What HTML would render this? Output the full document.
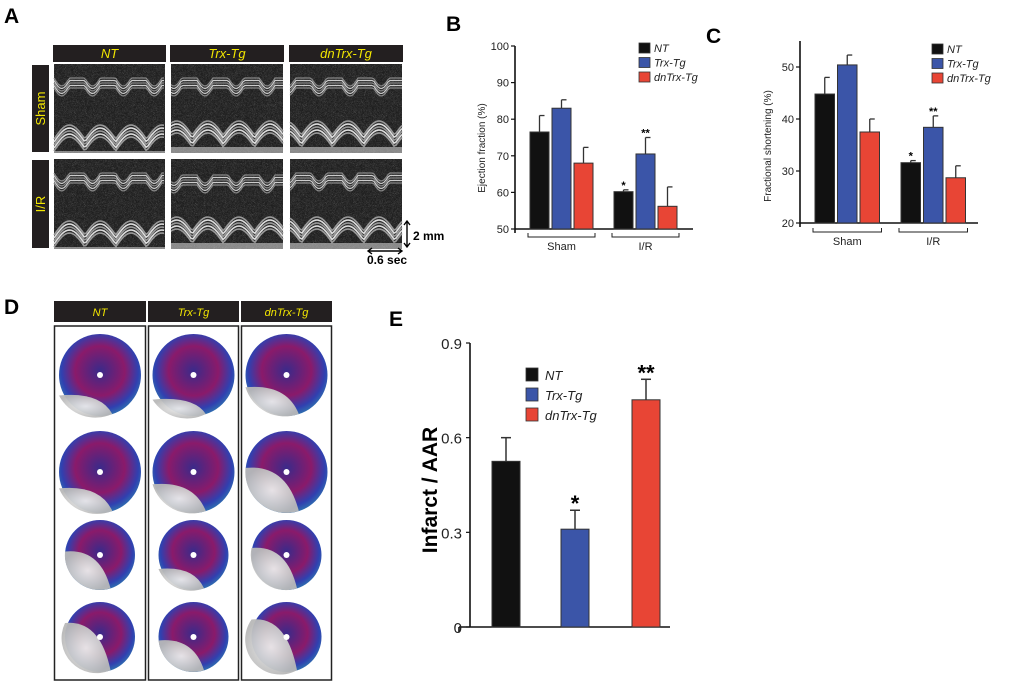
<!DOCTYPE html>
<html><head><meta charset="utf-8"><style>
body{margin:0;background:#fff;width:1020px;height:685px;overflow:hidden;font-family:"Liberation Sans",sans-serif}
svg{display:block}
</style></head><body>
<svg id="fig" width="1020" height="685" xmlns="http://www.w3.org/2000/svg">
<defs>
<radialGradient id="hp" cx="50%" cy="45%" r="55%"><stop offset="0" stop-color="#3a2a8a"/><stop offset="0.55" stop-color="#8a1a6a"/><stop offset="0.85" stop-color="#3040b0"/><stop offset="1" stop-color="#2f6fb0"/></radialGradient>
<radialGradient id="hg" cx="50%" cy="50%" r="55%"><stop offset="0" stop-color="#ececec"/><stop offset="1" stop-color="#b8b8b8"/></radialGradient>
<filter id="nz"><feTurbulence baseFrequency="0.9" numOctaves="1" seed="3"/><feColorMatrix values="0 0 0 0 1 0 0 0 0 1 0 0 0 0 1 0 0 0 0.35 0"/><feComposite in2="SourceGraphic" operator="in"/></filter>
</defs>
<g font-weight="bold" font-size="21" fill="#000">
<text x="4" y="23">A</text>
<text x="446" y="31">B</text>
<text x="706" y="43">C</text>
<text x="4" y="314">D</text>
<text x="389" y="326">E</text>
</g>
<g id="pa"></g>
<g id="pd"></g>
<g id="pb"></g>
<g id="pc"></g>
<g id="pe"></g>
</svg>
<script>
const NS='http://www.w3.org/2000/svg';
function mk(p,t,a,txt){const e=document.createElementNS(NS,t);for(const k in a)e.setAttribute(k,a[k]);if(txt!==undefined)e.textContent=txt;p.appendChild(e);return e;}
const COL=['#111111','#3b55a8','#e84535'];
const groupsLegend=['NT','Trx-Tg','dnTrx-Tg'];

// Panel B data
const bCats=['Sham','I/R'];
const bVals=[[76.5,83,68],[60.2,70.5,56.2]];
const bErr=[[4.5,2.3,4.3],[0.5,4.5,5.3]];
const bTicks=[50,60,70,80,90,100];
const bStars=[['','',''],['*','**','']];
// Panel C data
const cCats=['Sham','I/R'];
const cVals=[[44.8,50.4,37.5],[31.6,38.4,28.7]];
const cErr=[[3.2,1.9,2.5],[0.4,2.2,2.3]];
const cTicks=[20,30,40,50];
const cStars=[['','',''],['*','**','']];
// Panel E data
const eVals=[0.525,0.31,0.72];
const eErr=[0.075,0.06,0.065];
const eTicks=['0','0.3','0.6','0.9'];
const eStars=['','*','**'];

// ---- Panel A
const pa=document.getElementById('pa');
const colsA=[[53,113],[170,114],[289,114]];
groupsLegend.forEach((g,i)=>{
  const r=mk(pa,'rect',{x:colsA[i][0],y:45,width:colsA[i][1],height:17,fill:'#231f20'});
  
  mk(pa,'text',{x:colsA[i][0]+colsA[i][1]/2,y:58,'text-anchor':'middle','font-size':13,'font-style':'italic',fill:'#f2e600'},g);
});
[['Sham',65,152],['I/R',160,248]].forEach((r,j)=>{
  const rr=mk(pa,'rect',{x:32,y:r[1],width:17,height:r[2]-r[1],fill:'#231f20'});
  
  const cy=(r[1]+r[2])/2;
  mk(pa,'text',{x:45,y:cy,'text-anchor':'middle','font-size':13,fill:'#f2e600',transform:`rotate(-90 45 ${cy})`},r[0]);
  colsA.forEach((c,i)=>{
    const g=mk(pa,'g',{});
    
    const x0=c[0]+1,w=c[1]-2,y0=r[1]-1,h=r[2]-r[1]+2;
    mk(g,'rect',{x:x0,y:y0,width:w,height:h,fill:'#1c1c1c'});
    mk(g,'rect',{x:x0,y:y0,width:w,height:h,fill:'#1c1c1c',filter:'url(#nz)'});
    const top=y0+(i===1&&j===1?16:14), bot=y0+h-(i===0?22:26);
    for(let k=0;k<5;k++){
      let d='',d2='';
      for(let x=0;x<=w;x+=2){
        const ph=Math.sin(x/w*Math.PI*2*3.6+i);
        d+=(x?'L':'M')+(x0+x)+' '+(top+k*2.5+Math.max(0,ph)*8);
        d2+=(x?'L':'M')+(x0+x)+' '+(bot+k*3-Math.abs(Math.sin(x/w*Math.PI*3.6+i))*14+8);
      }
      mk(g,'path',{d:d,stroke:k%2?'#ccc':'#888',fill:'none','stroke-width':1.2});
      mk(g,'path',{d:d2,stroke:k%2?'#ddd':'#999',fill:'none','stroke-width':1.6});
    }
    mk(g,'rect',{x:x0,y:bot+20,width:w,height:y0+h-bot-20,fill:'#cfcfcf',opacity:0.6});
  });
});
mk(pa,'path',{d:'M407 222V246M404 225L407 221L410 225M404 243L407 247L410 243M369 251H401M372 248L368 251L372 254M398 248L402 251L398 254',stroke:'#000',fill:'none','stroke-width':1.4});
mk(pa,'text',{x:413,y:240,'font-size':12,'font-weight':'bold'},'2 mm');
mk(pa,'text',{x:367,y:264,'font-size':12,'font-weight':'bold'},'0.6 sec');

// ---- Panel D
const pd=document.getElementById('pd');
const colsD=[[54,92],[148,91],[241,91]];
const heartMix=[[0.25,0.2,0.35],[0.3,0.35,0.55],[0.55,0.3,0.6],[0.7,0.45,0.75]];
groupsLegend.forEach((g,i)=>{
  const r=mk(pd,'rect',{x:colsD[i][0],y:301,width:colsD[i][1],height:21,fill:'#231f20'});
  
  mk(pd,'text',{x:colsD[i][0]+colsD[i][1]/2,y:316,'text-anchor':'middle','font-size':11,'font-style':'italic',fill:'#f2e600'},g);
  const f=mk(pd,'rect',{x:colsD[i][0]+0.5,y:326,width:colsD[i][1]-1,height:354,fill:'#fff',stroke:'#222','stroke-width':1.5});
  
  [375,472,555,637].forEach((cy,k)=>{
    const cx=colsD[i][0]+colsD[i][1]/2, rad=k<2?41:35;
    const h=mk(pd,'circle',{cx:cx,cy:cy,r:rad,fill:'url(#hp)'});
    
    const m=heartMix[k][i];
    mk(pd,'path',{d:`M${cx-rad} ${cy+rad*(1-2*m)} A${rad} ${rad} 0 0 0 ${cx+rad*0.3} ${cy+rad*0.95} Q${cx} ${cy+rad*(0.9-2*m)} ${cx-rad} ${cy+rad*(1-2*m)}Z`,fill:'url(#hg)',opacity:0.95});
    mk(pd,'circle',{cx:cx,cy:cy,r:3,fill:'#fff'});
  });
});

// ---- bar chart helper for B and C
function barChart(id,cats,vals,errs,ticks,stars,opt){
  const p=document.getElementById(id);
  const y=v=>opt.y0-(v-opt.vmin)*opt.k;
  mk(p,'line',{x1:opt.ax,y1:y(ticks[ticks.length-1])-opt.ext,x2:opt.ax,y2:y(opt.vmin)+4,stroke:'#111','stroke-width':1.6});
  mk(p,'line',{x1:opt.ax,y1:y(opt.vmin),x2:opt.xend,y2:y(opt.vmin),stroke:'#111','stroke-width':1.6});
  ticks.forEach(t=>{
    mk(p,'line',{x1:opt.ax-4,y1:y(t),x2:opt.ax,y2:y(t),stroke:'#111','stroke-width':1.2});
    const tl=mk(p,'text',{x:opt.ax-6,y:y(t)+4,'text-anchor':'end','font-size':11,fill:'#222'},String(t));
    
  });
  const yt=mk(p,'text',{x:opt.tx,y:opt.ty,'text-anchor':'middle','font-size':10,fill:'#222',transform:`rotate(-90 ${opt.tx} ${opt.ty})`},opt.title);
  
  cats.forEach((c,gi)=>{
    vals[gi].forEach((v,si)=>{
      const x=opt.gx[gi]+si*opt.step;
      mk(p,'line',{x1:x+opt.bw/2,y1:y(v),x2:x+opt.bw/2,y2:y(v+errs[gi][si]),stroke:'#333','stroke-width':1.3});
      mk(p,'line',{x1:x+opt.bw/2,y1:y(v+errs[gi][si]),x2:x+opt.bw/2+5,y2:y(v+errs[gi][si]),stroke:'#333','stroke-width':1.3});
      const b=mk(p,'rect',{x:x,y:y(v),width:opt.bw,height:y(opt.vmin)-y(v),fill:COL[si],stroke:'#333','stroke-width':1});
      
      if(stars[gi][si]) mk(p,'text',{x:x+opt.bw/2,y:y(v+errs[gi][si])-1,'text-anchor':'middle','font-size':11,'font-weight':'bold'},stars[gi][si]);
    });
    const bx0=opt.gx[gi]-2,bx1=opt.gx[gi]+2*opt.step+opt.bw+2,by=y(opt.vmin)+opt.bd;
    mk(p,'path',{d:`M${bx0} ${by-4}V${by}H${bx1}V${by-4}`,stroke:'#222',fill:'none','stroke-width':1});
    const cl=mk(p,'text',{x:(bx0+bx1)/2,y:by+13,'text-anchor':'middle','font-size':11,fill:'#222'},c);
    
  });
  groupsLegend.forEach((g,i)=>{
    const lr=mk(p,'rect',{x:opt.lx,y:opt.ly+i*14.5,width:11,height:10,fill:COL[i],stroke:'#333','stroke-width':0.8});
    
    const lt=mk(p,'text',{x:opt.lx+15,y:opt.ly+i*14.5+9,'font-size':11,'font-style':'italic',fill:'#222'},g);
    
  });
}
barChart('pb',bCats,bVals,bErr,bTicks,bStars,{y0:229,vmin:50,k:183/50,ax:515,xend:693,ext:0,gx:[530,614],step:22,bw:19,tx:485,ty:148,title:'Ejection fraction  (%)',lx:639,ly:43,bd:8});
barChart('pc',cCats,cVals,cErr,cTicks,cStars,{y0:223,vmin:20,k:5.2,ax:800,xend:978,ext:26,gx:[815,901],step:22.5,bw:19.5,tx:771,ty:146,title:'Fractional shortening  (%)',lx:932,ly:44,bd:9});

// ---- Panel E
(function(){
  const p=document.getElementById('pe');
  const y=v=>627-v*(284/0.9);
  mk(p,'line',{x1:470,y1:343,x2:470,y2:627,stroke:'#111','stroke-width':1.6});
  mk(p,'line',{x1:459,y1:627,x2:670,y2:627,stroke:'#111','stroke-width':1.6});
  mk(p,'line',{x1:459,y1:627,x2:459,y2:632,stroke:'#111','stroke-width':1.6});
  eTicks.forEach(t=>{
    mk(p,'line',{x1:466,y1:y(+t),x2:470,y2:y(+t),stroke:'#111','stroke-width':1.2});
    const tl=mk(p,'text',{x:462,y:y(+t)+6,'text-anchor':'end','font-size':15,fill:'#222'},t);
    
  });
  const yt=mk(p,'text',{x:437,y:490,'text-anchor':'middle','font-size':21,'font-weight':'bold',transform:'rotate(-90 437 490)'},'Infarct / AAR');
  
  const xs=[492,561,632];
  eVals.forEach((v,i)=>{
    const x=xs[i],w=28;
    mk(p,'line',{x1:x+w/2,y1:y(v),x2:x+w/2,y2:y(v+eErr[i]),stroke:'#333','stroke-width':1.5});
    mk(p,'line',{x1:x+w/2-5,y1:y(v+eErr[i]),x2:x+w/2+5,y2:y(v+eErr[i]),stroke:'#333','stroke-width':1.5});
    const b=mk(p,'rect',{x:x,y:y(v),width:w,height:627-y(v),fill:COL[i],stroke:'#333','stroke-width':1});
    
    if(eStars[i]) mk(p,'text',{x:x+w/2,y:y(v+eErr[i])+1,'text-anchor':'middle','font-size':22,'font-weight':'bold'},eStars[i]);
  });
  groupsLegend.forEach((g,i)=>{
    const lr=mk(p,'rect',{x:526,y:368+i*20,width:12,height:13,fill:COL[i],stroke:'#333','stroke-width':0.8});
    
    const lt=mk(p,'text',{x:545,y:380+i*20,'font-size':13,'font-style':'italic',fill:'#222'},g);
    
  });
})();
</script>
</body></html>
